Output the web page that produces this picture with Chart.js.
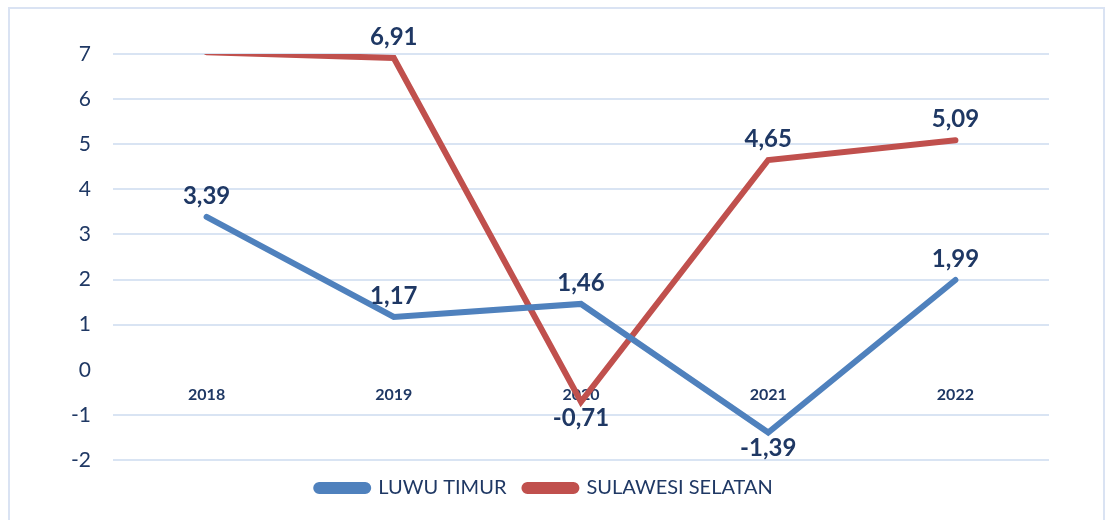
<!DOCTYPE html>
<html>
<head>
<meta charset="utf-8">
<script src="https://cdn.jsdelivr.net/npm/chart.js@4"></script>
<style>
  html, body { margin: 0; padding: 0; background: #fff; }
  #wrap { position: relative; width: 1107px; height: 520px; }
  #frame { position: absolute; left: 8px; top: 7px; width: 1097px; height: 520px; border: 2px solid #dae3f3; box-sizing: border-box; pointer-events: none; }
  canvas { position: absolute; left: 0; top: 0; }
</style>
</head>
<body>
<div id="wrap">
  <canvas id="c" width="1107" height="520"></canvas>
  <div id="frame"></div>
</div>
<script>
const years = ['2018', '2019', '2020', '2021', '2022'];
const luwuTimur = [3.39, 1.17, 1.46, -1.39, 1.99];
const sulawesiSelatan = [7.04, 6.91, -0.71, 4.65, 5.09];
// label placement: 'above' or 'below' for each point
const luwuPlace = ['above', 'above', 'above', 'below', 'above'];
const sulselPlace = ['above', 'above', 'below', 'above', 'above'];
const yTicks = [-2, -1, 0, 1, 2, 3, 4, 5, 6, 7];

const navy = '#1f3864';
const FONT = 'Lato, "Open Sans", sans-serif';

function fmt(v) { return v.toFixed(2).replace('.', ','); }

const dataLabels = {
  id: 'dataLabels',
  afterDatasetsDraw(chart) {
    const ctx = chart.ctx;
    const places = [luwuPlace, sulselPlace];
    ctx.save();
    ctx.font = 'bold 24px ' + FONT;
    ctx.fillStyle = navy;
    ctx.textAlign = 'center';
    ctx.textBaseline = 'middle';
    chart.data.datasets.forEach((ds, di) => {
      const meta = chart.getDatasetMeta(di);
      meta.data.forEach((pt, i) => {
        const v = ds.data[i];
        if (v > chart.scales.y.max || v < chart.scales.y.min) return;
        const below = places[di][i] === 'below';
        const y = pt.y + (below ? 16 : -21);
        ctx.fillText(fmt(v), pt.x, y);
      });
    });
    ctx.restore();
  }
};

new Chart(document.getElementById('c'), {
  type: 'line',
  data: {
    labels: years,
    datasets: [
      {
        label: 'LUWU TIMUR',
        data: luwuTimur,
        borderColor: '#4f81bd',
        backgroundColor: '#4f81bd',
        borderWidth: 6,
        borderCapStyle: 'round',
        borderJoinStyle: 'miter',
        pointRadius: 0,
        tension: 0,
        clip: 0
      },
      {
        label: 'SULAWESI SELATAN',
        data: sulawesiSelatan,
        borderColor: '#c0504d',
        backgroundColor: '#c0504d',
        borderWidth: 6,
        borderCapStyle: 'round',
        borderJoinStyle: 'miter',
        pointRadius: 0,
        tension: 0,
        clip: 0
      }
    ]
  },
  options: {
    responsive: false,
    animation: false,
    devicePixelRatio: 1,
    layout: { padding: { left: 40, right: 58, top: 54, bottom: 12 } },
    plugins: {
      legend: {
        position: 'bottom',
        labels: {
          color: navy,
          font: { family: FONT, size: 20 },
          boxWidth: 52,
          boxHeight: 6,
          useBorderRadius: true,
          borderRadius: 3,
          padding: 18
        }
      },
      tooltip: { enabled: false }
    },
    scales: {
      x: {
        type: 'category',
        position: { y: 0 },
        offset: true,
        grid: { display: false, drawTicks: true, tickLength: 8 },
        border: { display: false },
        ticks: {
          color: navy,
          font: { family: FONT, size: 16, weight: 'bold' },
          padding: 7,
          maxRotation: 0
        }
      },
      y: {
        min: -2,
        max: 7,
        afterFit(scale) { scale.width = 73; },
        afterBuildTicks(scale) { scale.ticks = yTicks.map(v => ({ value: v })); },
        grid: {
          drawTicks: false,
          lineWidth: 2,
          color: (c) => (c.tick && c.tick.value === 0) ? 'rgba(0,0,0,0)' : '#d9e4f3'
        },
        border: { display: false },
        ticks: {
          color: navy,
          font: { family: FONT, size: 21 },
          padding: 22,
          stepSize: 1
        }
      }
    }
  },
  plugins: [dataLabels]
});
</script>
</body>
</html>
